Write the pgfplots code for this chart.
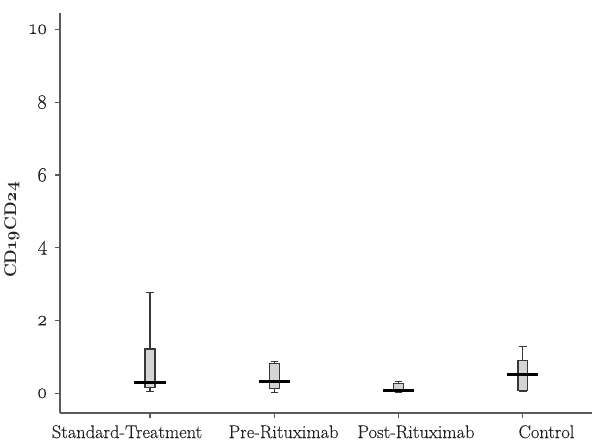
\documentclass[border=0pt]{standalone}
\usepackage{fontspec}
\setmainfont{Latin Modern Roman}[Numbers=OldStyle]
\newfontfamily\labfont{Latin Modern Roman}[Numbers=OldStyle, FakeBold=0.2]
\usepackage{pgfplots}
\usepgfplotslibrary{statistics}
\pgfplotsset{compat=1.18}
\definecolor{axisgray}{HTML}{5A5A5A}
\definecolor{boxfill}{HTML}{D4D4D4}
\definecolor{boxdraw}{HTML}{383838}
\definecolor{textcol}{HTML}{202020}
\begin{document}
\begin{tikzpicture}
\begin{axis}[
  scale only axis, width=532bp, height=400bp,
  xmin=-0.724, xmax=3.556, ymin=-0.54, ymax=10.45,
  axis lines*=left,
  axis line style={-, draw=axisgray, line width=1.6bp},
  tick align=outside, major tick length=5bp,
  tick style={draw=axisgray, line width=1.2bp},
  xtick={0,1,2,3},
  xticklabels={},
  ytick={0,2,4,6,8,10},
  /pgf/number format/assume math mode=true,
  ticklabel style={font=\labfont\fontsize{20.5}{23}\selectfont, text=textcol},
  yticklabel style={xshift=-4bp},
  ylabel={CD19CD24},
  ylabel style={font=\bfseries\fontsize{17}{19}\selectfont, text=textcol, at={(ticklabel cs:0.458,3bp)}},
  boxplot/draw direction=y,
  boxplot/box extend=0.08,
  boxplot/whisker extend=0.06,
  boxplot/every box/.style={draw=boxdraw, fill=boxfill, line width=1.2bp},
  boxplot/every whisker/.style={draw=boxdraw, line width=1.2bp},
  boxplot/every median/.style={draw=none},
  clip=false,
]
\addplot[boxplot prepared={draw position=0, lower whisker=0.05, lower quartile=0.15, median=0.30, upper quartile=1.22, upper whisker=2.78}] coordinates {};
\addplot[boxplot prepared={draw position=1, lower whisker=0.03, lower quartile=0.14, median=0.33, upper quartile=0.82, upper whisker=0.87}] coordinates {};
\addplot[boxplot prepared={draw position=2, lower whisker=0.02, lower quartile=0.04, median=0.08, upper quartile=0.27, upper whisker=0.32}] coordinates {};
\addplot[boxplot prepared={draw position=3, lower whisker=0.04, lower quartile=0.08, median=0.52, upper quartile=0.91, upper whisker=1.28}] coordinates {};
\addplot[black, line width=3.2bp] coordinates {(-0.125,0.30) (0.125,0.30)};
\addplot[black, line width=3.2bp] coordinates {(0.875,0.33) (1.125,0.33)};
\addplot[black, line width=3.2bp] coordinates {(1.875,0.08) (2.125,0.08)};
\addplot[black, line width=3.2bp] coordinates {(2.875,0.52) (3.125,0.52)};
\begin{scope}[every node/.style={anchor=base, inner sep=0pt, text=textcol, font=\labfont\fontsize{18.5}{21}\selectfont}]
\node at (axis cs:-0.185,-1.228) {Standard-Treatment};
\node at (axis cs:1.075,-1.228) {Pre-Rituximab};
\node at (axis cs:2.14,-1.228) {Post-Rituximab};
\node at (axis cs:3.19,-1.228) {Control};
\end{scope}
\end{axis}
\pgfresetboundingbox
\path[use as bounding box] (current axis.south west) ++(-60bp,-33bp) rectangle ++(605bp,446bp);
\end{tikzpicture}
\end{document}
